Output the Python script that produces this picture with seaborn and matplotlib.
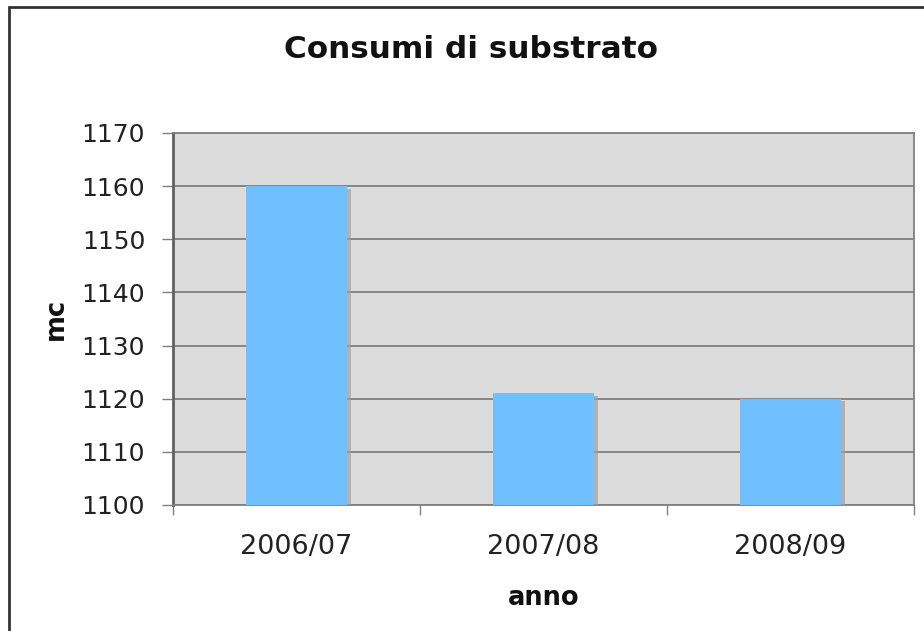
import numpy as np
import pandas as pd
import seaborn as sns
import matplotlib.pyplot as plt
import matplotlib.patheffects as pe
from matplotlib.patches import Rectangle

# Consumi di substrato per anno
anni = ['2006/07', '2007/08', '2008/09']
consumi = [1160, 1121, 1120]

data = pd.DataFrame({'anno': anni, 'mc': consumi})

sns.set_style('white')
plt.rcParams['font.family'] = ['DejaVu Sans']

fig = plt.figure(figsize=(9.24, 6.31), dpi=100)
ax = fig.add_axes([173 / 924, 1 - 505 / 631, (914 - 173) / 924, (505 - 133) / 631])

sns.barplot(data=data, x='anno', y='mc', color='#70bfff', saturation=1,
            width=0.405, linewidth=0, ax=ax, zorder=3)
for bar in ax.patches:
    bar.set_path_effects([pe.SimplePatchShadow(offset=(3, -2), shadow_rgbFace='#a0a0a0', alpha=0.7),
                          pe.Normal()])

ax.set_facecolor('#dcdcdc')
ax.set_ylim(1100, 1170)
ax.set_yticks(np.arange(1100, 1171, 10))
ax.yaxis.grid(True, color='#808080', linewidth=1.3, zorder=0)
ax.set_axisbelow(True)
ax.set_xlim(-0.5, 2.5)

# tick marks between categories, labels centred under bars
ax.set_xticks([-0.5, 0.5, 1.5, 2.5])
ax.set_xticklabels([])
ax.set_xticks([0, 1, 2], minor=True)
ax.set_xticklabels(anni, minor=True)
ax.tick_params(axis='x', which='major', direction='out', length=7, width=1, color='#808080', bottom=True)
ax.tick_params(axis='x', which='minor', length=0, pad=21, labelsize=19.5, labelcolor='#222222')
ax.tick_params(axis='y', direction='out', length=8, width=1, color='#808080', left=True,
               labelsize=18, labelcolor='#222222', pad=12)

for side in ['left', 'bottom', 'top', 'right']:
    ax.spines[side].set_color('#808080')
    ax.spines[side].set_linewidth(1.3)
ax.spines['left'].set_color('#606060')
ax.spines['left'].set_linewidth(2)

ax.set_xlabel('anno', fontsize=18.5, fontweight='bold', labelpad=18, color='#111111')
ax.set_ylabel('mc', fontsize=18.5, fontweight='bold', labelpad=9, color='#111111')
fig.text(471 / 924, 1 - 50 / 631, 'Consumi di substrato', fontsize=22.4, fontweight='bold',
         ha='center', va='center', color='#111111')

# outer chart border
fig.patches.append(Rectangle((9 / 924, -0.05), 1.0, 1 - 7 / 631 + 0.05, transform=fig.transFigure,
                             fill=False, edgecolor='#333333', linewidth=2))

fig.savefig('out.png', dpi=100)
